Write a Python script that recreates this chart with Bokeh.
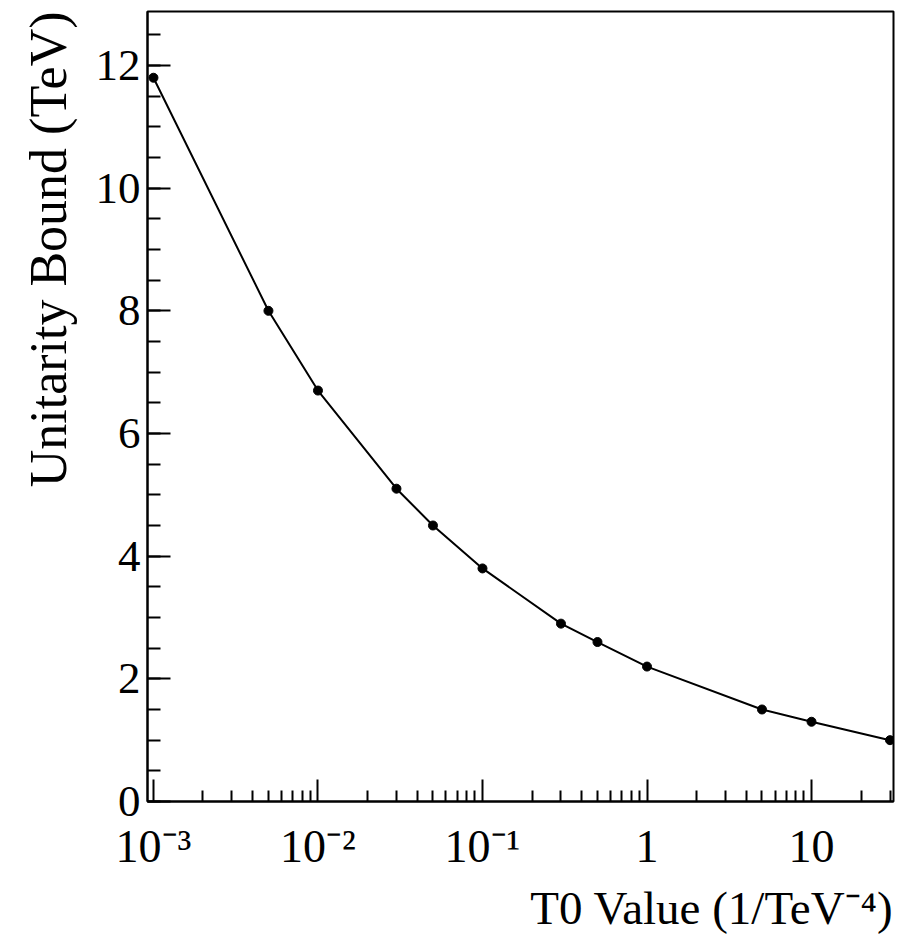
from bokeh.plotting import figure
from bokeh.models import Range1d, FixedTicker, Title, ColumnDataSource
from bokeh.embed import file_html
from bokeh.resources import INLINE

# ---- data ----
t0_values = [1e-3, 5e-3, 1e-2, 3e-2, 5e-2, 0.1, 0.3, 0.5, 1.0, 5.0, 10.0, 30.0]
unitarity_bound = [11.8, 8.0, 6.7, 5.1, 4.5, 3.8, 2.9, 2.6, 2.2, 1.5, 1.3, 1.0]

x_tick_values = [1e-3, 1e-2, 1e-1, 1, 10]
x_tick_labels = ["10\u207b\u00b3", "10\u207b\u00b2", "10\u207b\u00b9", "1", "10"]
y_tick_values = [0, 2, 4, 6, 8, 10, 12]
y_tick_labels = ["0", "2", "4", "6", "8", "10", "12"]

x_title = "T0 Value (1/TeV\u207b\u2074)"
y_title = "Unitarity Bound (TeV)"

FONT = "Liberation Serif"

src = ColumnDataSource(data=dict(x=t0_values, y=unitarity_bound))

p = figure(
    width=898, height=941,
    x_axis_type="log",
    x_range=Range1d(9.2e-4, 31.5),
    y_range=Range1d(0, 12.88),
    output_backend="svg",
    toolbar_location=None,
    min_border_left=147, min_border_right=5,
    min_border_top=11, min_border_bottom=140,
)
p.background_fill_color = "white"
p.border_fill_color = "white"
p.outline_line_color = "black"
p.outline_line_width = 2
p.grid.visible = False

p.line("x", "y", source=src, line_color="black", line_width=2)
p.scatter("x", "y", source=src, size=9, color="black")

# x axis
xa = p.xaxis[0]
xa.ticker = FixedTicker(ticks=x_tick_values,
                        minor_ticks=[m * 10.0 ** e for e in range(-3, 2) for m in range(2, 10)])
xa.major_label_overrides = {v: l for v, l in zip(x_tick_values, x_tick_labels)}
xa.major_label_text_font = FONT
xa.major_label_text_font_size = "46px"
xa.major_label_text_color = "black"
xa.major_label_standoff = 19
xa.axis_line_color = "black"
xa.axis_line_width = 2
xa.major_tick_in = 22
xa.major_tick_out = 0
xa.minor_tick_in = 11
xa.minor_tick_out = 0
xa.major_tick_line_width = 2
xa.minor_tick_line_width = 2
xa.major_tick_line_color = "black"
xa.minor_tick_line_color = "black"

# y axis
ya = p.yaxis[0]
ya.ticker = FixedTicker(ticks=y_tick_values,
                        minor_ticks=[i * 0.5 for i in range(0, 26)])
ya.major_label_overrides = {v: l for v, l in zip(y_tick_values, y_tick_labels)}
ya.major_label_text_font = FONT
ya.major_label_text_font_size = "45px"
ya.major_label_text_color = "black"
ya.major_label_standoff = 7
ya.axis_line_color = "black"
ya.axis_line_width = 2
ya.major_tick_in = 23
ya.major_tick_out = 0
ya.minor_tick_in = 13
ya.minor_tick_out = 0
ya.major_tick_line_width = 2
ya.minor_tick_line_width = 2
ya.major_tick_line_color = "black"
ya.minor_tick_line_color = "black"

# axis titles (ROOT style: aligned to the far end of each axis)
p.add_layout(Title(text=x_title, align="right", text_font=FONT,
                   text_font_size="47px", text_font_style="normal",
                   text_color="black", standoff=10), "below")
p.add_layout(Title(text=y_title, align="right", text_font=FONT,
                   text_font_size="52px", text_font_style="normal",
                   text_color="black", standoff=32), "left")

open("out.html", "w").write(file_html(p, INLINE))
